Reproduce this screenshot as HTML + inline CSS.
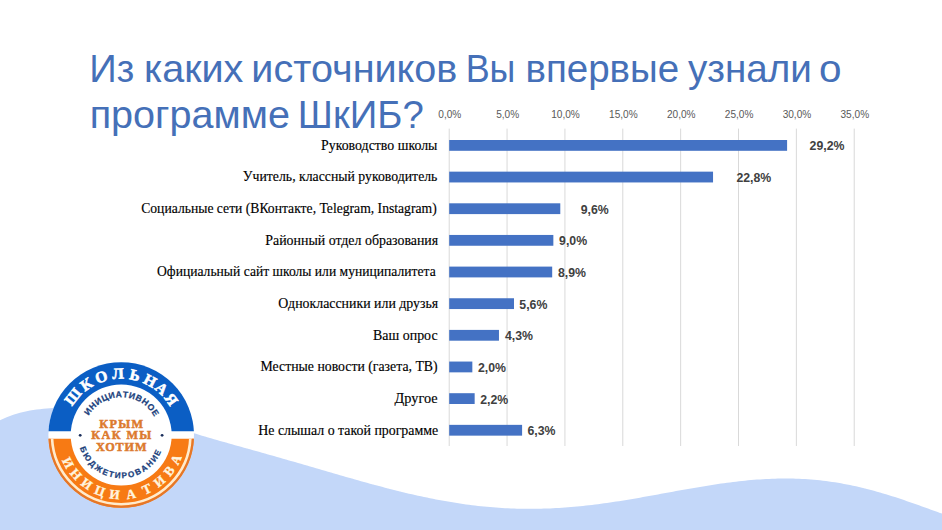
<!DOCTYPE html><html><head><meta charset="utf-8"><style>html,body{margin:0;padding:0;background:#fff;width:942px;height:530px;overflow:hidden}svg{display:block}</style></head><body>
<svg width="942" height="530" viewBox="0 0 942 530">
<path d="M0.0,420.20 L3.3,418.74 L6.7,417.35 L10.0,416.05 L13.3,414.85 L16.7,413.76 L20.0,412.80 L23.3,411.96 L26.7,411.24 L30.0,410.62 L33.3,410.09 L36.7,409.62 L40.0,409.20 L43.3,408.82 L46.7,408.48 L50.0,408.20 L53.3,407.99 L56.7,407.85 L60.0,407.80 L63.0,407.82 L66.0,407.87 L69.1,407.96 L72.1,408.08 L75.1,408.24 L78.1,408.42 L81.2,408.64 L84.2,408.89 L87.2,409.18 L90.2,409.49 L93.2,409.83 L96.3,410.20 L99.3,410.59 L102.3,411.02 L105.3,411.47 L108.4,411.94 L111.4,412.45 L114.4,412.97 L117.4,413.52 L120.4,414.09 L123.5,414.69 L126.5,415.30 L129.5,415.94 L132.5,416.60 L135.6,417.27 L138.6,417.97 L141.6,418.68 L144.6,419.41 L147.6,420.16 L150.7,420.92 L153.7,421.70 L156.7,422.50 L159.7,423.30 L162.8,424.13 L165.8,424.96 L168.8,425.81 L171.8,426.66 L174.8,427.53 L177.9,428.41 L180.9,429.30 L183.9,430.19 L186.9,431.09 L190.0,432.00 L193.0,432.92 L196.0,433.84 L199.0,434.76 L202.0,435.66 L205.0,436.55 L208.0,437.43 L211.0,438.31 L214.0,439.18 L217.0,440.04 L220.0,440.90 L223.0,441.75 L226.0,442.60 L229.0,443.44 L232.0,444.29 L235.0,445.13 L238.0,445.97 L241.0,446.81 L244.0,447.65 L247.0,448.49 L250.0,449.33 L253.0,450.17 L256.0,451.01 L259.0,451.85 L262.0,452.70 L265.0,453.54 L268.0,454.39 L271.0,455.24 L274.0,456.09 L277.0,456.94 L280.0,457.80 L283.0,458.66 L286.0,459.52 L289.0,460.38 L292.0,461.24 L295.0,462.11 L298.0,462.97 L301.0,463.84 L304.0,464.71 L307.0,465.58 L310.0,466.46 L313.0,467.33 L316.0,468.20 L319.0,469.08 L322.0,469.95 L325.0,470.82 L328.0,471.70 L331.0,472.57 L334.0,473.44 L337.0,474.31 L340.0,475.17 L343.0,476.04 L346.0,476.90 L349.0,477.76 L352.0,478.61 L355.0,479.46 L358.0,480.31 L361.0,481.15 L364.0,481.99 L367.0,482.82 L370.0,483.64 L373.0,484.46 L376.0,485.27 L379.0,486.08 L382.0,486.87 L385.0,487.66 L388.0,488.44 L391.0,489.21 L394.0,489.98 L397.0,490.73 L400.0,491.47 L403.0,492.20 L406.0,492.92 L409.0,493.63 L412.0,494.32 L415.0,495.01 L418.0,495.68 L421.0,496.34 L424.0,496.98 L427.0,497.61 L430.0,498.23 L433.0,498.83 L436.0,499.42 L439.0,499.99 L442.0,500.55 L445.0,501.09 L448.0,501.61 L451.0,502.12 L454.0,502.61 L457.0,503.09 L460.0,503.54 L463.0,503.98 L466.0,504.40 L469.0,504.81 L472.0,505.19 L475.0,505.56 L478.0,505.91 L481.0,506.23 L484.0,506.54 L487.0,506.84 L490.0,507.11 L493.0,507.36 L496.0,507.59 L499.0,507.80 L502.0,508.00 L505.0,508.17 L508.0,508.32 L511.0,508.46 L514.0,508.57 L517.0,508.66 L520.0,508.74 L523.0,508.79 L526.0,508.83 L529.0,508.84 L532.0,508.84 L535.0,508.81 L538.0,508.77 L541.0,508.71 L544.0,508.62 L547.0,508.52 L550.0,508.40 L553.0,508.26 L556.0,508.11 L559.0,507.93 L562.0,507.74 L565.0,507.53 L568.0,507.30 L571.0,507.06 L574.0,506.80 L577.0,506.52 L580.0,506.23 L583.0,505.92 L586.0,505.59 L589.0,505.25 L592.0,504.90 L595.0,504.53 L598.0,504.15 L601.0,503.75 L604.0,503.34 L607.0,502.92 L610.0,502.49 L613.0,502.05 L616.0,501.59 L619.0,501.13 L622.0,500.65 L625.0,500.17 L628.0,499.68 L631.0,499.18 L634.0,498.67 L637.0,498.15 L640.0,497.63 L643.0,497.10 L646.0,496.57 L649.0,496.04 L652.0,495.50 L655.0,494.95 L658.0,494.41 L661.0,493.86 L664.0,493.31 L667.0,492.76 L670.0,492.21 L673.0,491.66 L676.0,491.12 L679.0,490.57 L682.0,490.03 L685.0,489.50 L688.0,488.96 L691.0,488.44 L694.0,487.92 L697.0,487.40 L700.0,486.89 L703.0,486.39 L706.0,485.90 L709.0,485.42 L712.0,484.95 L715.0,484.49 L718.0,484.05 L721.0,483.61 L724.0,483.19 L727.0,482.78 L730.0,482.39 L733.0,482.01 L736.0,481.65 L739.0,481.30 L742.0,480.97 L745.0,480.66 L748.0,480.37 L751.0,480.10 L754.0,479.84 L757.0,479.61 L760.0,479.40 L763.0,479.21 L766.0,479.04 L769.0,478.90 L772.0,478.78 L775.0,478.68 L778.0,478.60 L781.0,478.56 L784.0,478.53 L787.0,478.54 L790.0,478.56 L793.0,478.62 L796.0,478.70 L799.0,478.81 L802.0,478.95 L805.0,479.11 L808.0,479.31 L811.0,479.53 L814.0,479.78 L817.0,480.06 L820.0,480.37 L823.0,480.70 L826.0,481.07 L829.0,481.47 L832.0,481.89 L835.0,482.34 L838.0,482.83 L841.0,483.34 L844.0,483.88 L847.0,484.45 L850.0,485.05 L853.0,485.67 L856.0,486.33 L859.0,487.01 L862.0,487.72 L865.0,488.45 L868.0,489.21 L871.0,490.00 L874.0,490.81 L877.0,491.64 L880.0,492.50 L883.0,493.38 L886.0,494.28 L889.0,495.21 L892.0,496.15 L895.0,497.11 L898.0,498.09 L901.0,499.09 L904.0,500.10 L907.0,501.13 L910.0,502.17 L913.0,503.22 L916.0,504.28 L919.0,505.34 L922.0,506.42 L925.0,507.50 L928.0,508.58 L931.0,509.66 L934.0,510.74 L937.0,511.82 L940.0,512.90 L942.0,513.61 L942,530 L0,530 Z" fill="#C3D7F9"/>
<g font-family="Liberation Sans" font-size="38.8" fill="#4570B8">
<text x="89.37" y="81.8" textLength="44.97" lengthAdjust="spacingAndGlyphs">Из</text>
<text x="144.01" y="81.8" textLength="99.32" lengthAdjust="spacingAndGlyphs">каких</text>
<text x="251.37" y="81.8" textLength="206.04" lengthAdjust="spacingAndGlyphs">источников</text>
<text x="465.66" y="81.8" textLength="49.73" lengthAdjust="spacingAndGlyphs">Вы</text>
<text x="525.43" y="81.8" textLength="153.78" lengthAdjust="spacingAndGlyphs">впервые</text>
<text x="688.01" y="81.8" textLength="123.87" lengthAdjust="spacingAndGlyphs">узнали</text>
<text x="819.10" y="81.8" textLength="22.50" lengthAdjust="spacingAndGlyphs">о</text>
<text x="89.66" y="127.7" textLength="200.30" lengthAdjust="spacingAndGlyphs">программе</text>
<text x="297.86" y="127.7" textLength="125.86" lengthAdjust="spacingAndGlyphs">ШкИБ?</text>
</g>
<rect x="448.70" y="128.6" width="1" height="317.4" fill="#D9D9D9"/>
<rect x="506.56" y="128.6" width="1" height="317.4" fill="#D9D9D9"/>
<rect x="564.42" y="128.6" width="1" height="317.4" fill="#D9D9D9"/>
<rect x="622.28" y="128.6" width="1" height="317.4" fill="#D9D9D9"/>
<rect x="680.14" y="128.6" width="1" height="317.4" fill="#D9D9D9"/>
<rect x="738.00" y="128.6" width="1" height="317.4" fill="#D9D9D9"/>
<rect x="795.86" y="128.6" width="1" height="317.4" fill="#D9D9D9"/>
<rect x="853.72" y="128.6" width="1" height="317.4" fill="#D9D9D9"/>
<g font-family="Liberation Sans" font-size="10.1" fill="#595959" text-anchor="middle">
<text x="449.80" y="118">0,0%</text>
<text x="507.66" y="118">5,0%</text>
<text x="565.52" y="118">10,0%</text>
<text x="623.38" y="118">15,0%</text>
<text x="681.24" y="118">20,0%</text>
<text x="739.10" y="118">25,0%</text>
<text x="796.96" y="118">30,0%</text>
<text x="854.82" y="118">35,0%</text>
</g>
<g font-family="Liberation Serif" font-size="14.3" fill="#000" stroke="#000" stroke-width="0.15">
<text x="321.0" y="149.7" textLength="116.4" lengthAdjust="spacingAndGlyphs">Руководство школы</text>
<text x="242.8" y="181.3" textLength="194.6" lengthAdjust="spacingAndGlyphs">Учитель, классный руководитель</text>
<text x="141.2" y="213.0" textLength="295.5" lengthAdjust="spacingAndGlyphs">Социальные сети (ВКонтакте, Telegram, Instagram)</text>
<text x="265.3" y="244.6" textLength="172.9" lengthAdjust="spacingAndGlyphs">Районный отдел образования</text>
<text x="157.0" y="276.3" textLength="278.7" lengthAdjust="spacingAndGlyphs">Официальный сайт школы или муниципалитета</text>
<text x="278.3" y="307.9" textLength="159.9" lengthAdjust="spacingAndGlyphs">Одноклассники или друзья</text>
<text x="373.0" y="339.6" textLength="64.6" lengthAdjust="spacingAndGlyphs">Ваш опрос</text>
<text x="260.5" y="371.2" textLength="177.1" lengthAdjust="spacingAndGlyphs">Местные новости (газета, ТВ)</text>
<text x="394.6" y="402.9" textLength="43.0" lengthAdjust="spacingAndGlyphs">Другое</text>
<text x="258.3" y="434.5" textLength="179.9" lengthAdjust="spacingAndGlyphs">Не слышал о такой программе</text>
</g>
<rect x="449.20" y="140.00" width="337.90" height="10.8" fill="#4472C4"/>
<rect x="449.20" y="171.65" width="263.84" height="10.8" fill="#4472C4"/>
<rect x="449.20" y="203.30" width="111.09" height="10.8" fill="#4472C4"/>
<rect x="449.20" y="234.95" width="104.15" height="10.8" fill="#4472C4"/>
<rect x="449.20" y="266.60" width="102.99" height="10.8" fill="#4472C4"/>
<rect x="449.20" y="298.25" width="64.80" height="10.8" fill="#4472C4"/>
<rect x="449.20" y="329.90" width="49.76" height="10.8" fill="#4472C4"/>
<rect x="449.20" y="361.55" width="23.14" height="10.8" fill="#4472C4"/>
<rect x="449.20" y="393.20" width="25.46" height="10.8" fill="#4472C4"/>
<rect x="449.20" y="424.85" width="72.90" height="10.8" fill="#4472C4"/>
<g font-family="Liberation Sans" font-weight="bold" font-size="12.3" fill="#404040">
<text x="809.6" y="150.4">29,2%</text>
<text x="736.4" y="182.1">22,8%</text>
<text x="580.7" y="213.7">9,6%</text>
<text x="559.1" y="245.3">9,0%</text>
<text x="557.9" y="277.0">8,9%</text>
<text x="519.3" y="308.6">5,6%</text>
<text x="504.9" y="340.3">4,3%</text>
<text x="478.0" y="371.9">2,0%</text>
<text x="480.2" y="403.6">2,2%</text>
<text x="527.5" y="435.2">6,3%</text>
</g>
<defs><clipPath id="ct"><rect x="0" y="0" width="942" height="431.2"/></clipPath><clipPath id="cb"><rect x="0" y="438.8" width="942" height="200"/></clipPath></defs>
<circle cx="121.2" cy="435.0" r="72.8" fill="#fff"/>
<circle cx="121.2" cy="435.0" r="72.8" fill="#0B5EC4" clip-path="url(#ct)"/>
<circle cx="121.2" cy="435.0" r="72.8" fill="#F77A14" clip-path="url(#cb)"/>
<circle cx="121.2" cy="435.0" r="71.8" fill="none" stroke="#E4772A" stroke-width="2" clip-path="url(#cb)"/>
<circle cx="121.2" cy="435.0" r="69.2" fill="none" stroke="#FFEBCD" stroke-width="2.6" clip-path="url(#cb)"/>
<circle cx="121.2" cy="435.0" r="50.5" fill="#fff"/>
<text transform="translate(121.2,435.0) rotate(-51.50) translate(0,-56.3)" text-anchor="middle" font-family="Liberation Serif" font-weight="bold" font-size="15.5" fill="#fff" stroke="#fff" stroke-width="0.6">Ш</text>
<text transform="translate(121.2,435.0) rotate(-34.50) translate(0,-56.3)" text-anchor="middle" font-family="Liberation Serif" font-weight="bold" font-size="15.5" fill="#fff" stroke="#fff" stroke-width="0.6">К</text>
<text transform="translate(121.2,435.0) rotate(-19.00) translate(0,-56.3)" text-anchor="middle" font-family="Liberation Serif" font-weight="bold" font-size="15.5" fill="#fff" stroke="#fff" stroke-width="0.6">О</text>
<text transform="translate(121.2,435.0) rotate(-3.00) translate(0,-56.3)" text-anchor="middle" font-family="Liberation Serif" font-weight="bold" font-size="15.5" fill="#fff" stroke="#fff" stroke-width="0.6">Л</text>
<text transform="translate(121.2,435.0) rotate(13.00) translate(0,-56.3)" text-anchor="middle" font-family="Liberation Serif" font-weight="bold" font-size="15.5" fill="#fff" stroke="#fff" stroke-width="0.6">Ь</text>
<text transform="translate(121.2,435.0) rotate(28.00) translate(0,-56.3)" text-anchor="middle" font-family="Liberation Serif" font-weight="bold" font-size="15.5" fill="#fff" stroke="#fff" stroke-width="0.6">Н</text>
<text transform="translate(121.2,435.0) rotate(41.00) translate(0,-56.3)" text-anchor="middle" font-family="Liberation Serif" font-weight="bold" font-size="15.5" fill="#fff" stroke="#fff" stroke-width="0.6">А</text>
<text transform="translate(121.2,435.0) rotate(54.50) translate(0,-56.3)" text-anchor="middle" font-family="Liberation Serif" font-weight="bold" font-size="15.5" fill="#fff" stroke="#fff" stroke-width="0.6">Я</text>
<text transform="translate(121.2,435.0) rotate(62.40) translate(0,64.3)" text-anchor="middle" font-family="Liberation Serif" font-weight="bold" font-size="13.2" fill="#FFF4DE" stroke="#FFF4DE" stroke-width="0.35">И</text>
<text transform="translate(121.2,435.0) rotate(49.00) translate(0,64.3)" text-anchor="middle" font-family="Liberation Serif" font-weight="bold" font-size="13.2" fill="#FFF4DE" stroke="#FFF4DE" stroke-width="0.35">Н</text>
<text transform="translate(121.2,435.0) rotate(35.20) translate(0,64.3)" text-anchor="middle" font-family="Liberation Serif" font-weight="bold" font-size="13.2" fill="#FFF4DE" stroke="#FFF4DE" stroke-width="0.35">И</text>
<text transform="translate(121.2,435.0) rotate(20.80) translate(0,64.3)" text-anchor="middle" font-family="Liberation Serif" font-weight="bold" font-size="13.2" fill="#FFF4DE" stroke="#FFF4DE" stroke-width="0.35">Ц</text>
<text transform="translate(121.2,435.0) rotate(6.40) translate(0,64.3)" text-anchor="middle" font-family="Liberation Serif" font-weight="bold" font-size="13.2" fill="#FFF4DE" stroke="#FFF4DE" stroke-width="0.35">И</text>
<text transform="translate(121.2,435.0) rotate(-9.40) translate(0,64.3)" text-anchor="middle" font-family="Liberation Serif" font-weight="bold" font-size="13.2" fill="#FFF4DE" stroke="#FFF4DE" stroke-width="0.35">А</text>
<text transform="translate(121.2,435.0) rotate(-25.40) translate(0,64.3)" text-anchor="middle" font-family="Liberation Serif" font-weight="bold" font-size="13.2" fill="#FFF4DE" stroke="#FFF4DE" stroke-width="0.35">Т</text>
<text transform="translate(121.2,435.0) rotate(-39.50) translate(0,64.3)" text-anchor="middle" font-family="Liberation Serif" font-weight="bold" font-size="13.2" fill="#FFF4DE" stroke="#FFF4DE" stroke-width="0.35">И</text>
<text transform="translate(121.2,435.0) rotate(-53.00) translate(0,64.3)" text-anchor="middle" font-family="Liberation Serif" font-weight="bold" font-size="13.2" fill="#FFF4DE" stroke="#FFF4DE" stroke-width="0.35">В</text>
<text transform="translate(121.2,435.0) rotate(-65.80) translate(0,64.3)" text-anchor="middle" font-family="Liberation Serif" font-weight="bold" font-size="13.2" fill="#FFF4DE" stroke="#FFF4DE" stroke-width="0.35">А</text>
<text transform="translate(121.2,435.0) rotate(-55.00) translate(0,-37.8)" text-anchor="middle" font-family="Liberation Sans" font-weight="bold" font-size="8.6" fill="#1B3F7C" stroke="#1B3F7C" stroke-width="0.25">И</text>
<text transform="translate(121.2,435.0) rotate(-44.73) translate(0,-37.8)" text-anchor="middle" font-family="Liberation Sans" font-weight="bold" font-size="8.6" fill="#1B3F7C" stroke="#1B3F7C" stroke-width="0.25">Н</text>
<text transform="translate(121.2,435.0) rotate(-34.46) translate(0,-37.8)" text-anchor="middle" font-family="Liberation Sans" font-weight="bold" font-size="8.6" fill="#1B3F7C" stroke="#1B3F7C" stroke-width="0.25">И</text>
<text transform="translate(121.2,435.0) rotate(-24.13) translate(0,-37.8)" text-anchor="middle" font-family="Liberation Sans" font-weight="bold" font-size="8.6" fill="#1B3F7C" stroke="#1B3F7C" stroke-width="0.25">Ц</text>
<text transform="translate(121.2,435.0) rotate(-13.80) translate(0,-37.8)" text-anchor="middle" font-family="Liberation Sans" font-weight="bold" font-size="8.6" fill="#1B3F7C" stroke="#1B3F7C" stroke-width="0.25">И</text>
<text transform="translate(121.2,435.0) rotate(-3.53) translate(0,-37.8)" text-anchor="middle" font-family="Liberation Sans" font-weight="bold" font-size="8.6" fill="#1B3F7C" stroke="#1B3F7C" stroke-width="0.25">А</text>
<text transform="translate(121.2,435.0) rotate(5.97) translate(0,-37.8)" text-anchor="middle" font-family="Liberation Sans" font-weight="bold" font-size="8.6" fill="#1B3F7C" stroke="#1B3F7C" stroke-width="0.25">Т</text>
<text transform="translate(121.2,435.0) rotate(15.45) translate(0,-37.8)" text-anchor="middle" font-family="Liberation Sans" font-weight="bold" font-size="8.6" fill="#1B3F7C" stroke="#1B3F7C" stroke-width="0.25">И</text>
<text transform="translate(121.2,435.0) rotate(25.72) translate(0,-37.8)" text-anchor="middle" font-family="Liberation Sans" font-weight="bold" font-size="8.6" fill="#1B3F7C" stroke="#1B3F7C" stroke-width="0.25">В</text>
<text transform="translate(121.2,435.0) rotate(36.01) translate(0,-37.8)" text-anchor="middle" font-family="Liberation Sans" font-weight="bold" font-size="8.6" fill="#1B3F7C" stroke="#1B3F7C" stroke-width="0.25">Н</text>
<text transform="translate(121.2,435.0) rotate(46.70) translate(0,-37.8)" text-anchor="middle" font-family="Liberation Sans" font-weight="bold" font-size="8.6" fill="#1B3F7C" stroke="#1B3F7C" stroke-width="0.25">О</text>
<text transform="translate(121.2,435.0) rotate(57.00) translate(0,-37.8)" text-anchor="middle" font-family="Liberation Sans" font-weight="bold" font-size="8.6" fill="#1B3F7C" stroke="#1B3F7C" stroke-width="0.25">Е</text>
<text transform="translate(121.2,435.0) rotate(69.00) translate(0,43.2)" text-anchor="middle" font-family="Liberation Sans" font-weight="bold" font-size="8.2" fill="#1B3F7C" stroke="#1B3F7C" stroke-width="0.25">Б</text>
<text transform="translate(121.2,435.0) rotate(56.96) translate(0,43.2)" text-anchor="middle" font-family="Liberation Sans" font-weight="bold" font-size="8.2" fill="#1B3F7C" stroke="#1B3F7C" stroke-width="0.25">Ю</text>
<text transform="translate(121.2,435.0) rotate(44.97) translate(0,43.2)" text-anchor="middle" font-family="Liberation Sans" font-weight="bold" font-size="8.2" fill="#1B3F7C" stroke="#1B3F7C" stroke-width="0.25">Д</text>
<text transform="translate(121.2,435.0) rotate(33.85) translate(0,43.2)" text-anchor="middle" font-family="Liberation Sans" font-weight="bold" font-size="8.2" fill="#1B3F7C" stroke="#1B3F7C" stroke-width="0.25">Ж</text>
<text transform="translate(121.2,435.0) rotate(23.04) translate(0,43.2)" text-anchor="middle" font-family="Liberation Sans" font-weight="bold" font-size="8.2" fill="#1B3F7C" stroke="#1B3F7C" stroke-width="0.25">Е</text>
<text transform="translate(121.2,435.0) rotate(14.25) translate(0,43.2)" text-anchor="middle" font-family="Liberation Sans" font-weight="bold" font-size="8.2" fill="#1B3F7C" stroke="#1B3F7C" stroke-width="0.25">Т</text>
<text transform="translate(121.2,435.0) rotate(5.11) translate(0,43.2)" text-anchor="middle" font-family="Liberation Sans" font-weight="bold" font-size="8.2" fill="#1B3F7C" stroke="#1B3F7C" stroke-width="0.25">И</text>
<text transform="translate(121.2,435.0) rotate(-4.43) translate(0,43.2)" text-anchor="middle" font-family="Liberation Sans" font-weight="bold" font-size="8.2" fill="#1B3F7C" stroke="#1B3F7C" stroke-width="0.25">Р</text>
<text transform="translate(121.2,435.0) rotate(-14.37) translate(0,43.2)" text-anchor="middle" font-family="Liberation Sans" font-weight="bold" font-size="8.2" fill="#1B3F7C" stroke="#1B3F7C" stroke-width="0.25">О</text>
<text transform="translate(121.2,435.0) rotate(-24.68) translate(0,43.2)" text-anchor="middle" font-family="Liberation Sans" font-weight="bold" font-size="8.2" fill="#1B3F7C" stroke="#1B3F7C" stroke-width="0.25">В</text>
<text transform="translate(121.2,435.0) rotate(-34.62) translate(0,43.2)" text-anchor="middle" font-family="Liberation Sans" font-weight="bold" font-size="8.2" fill="#1B3F7C" stroke="#1B3F7C" stroke-width="0.25">А</text>
<text transform="translate(121.2,435.0) rotate(-44.56) translate(0,43.2)" text-anchor="middle" font-family="Liberation Sans" font-weight="bold" font-size="8.2" fill="#1B3F7C" stroke="#1B3F7C" stroke-width="0.25">Н</text>
<text transform="translate(121.2,435.0) rotate(-54.47) translate(0,43.2)" text-anchor="middle" font-family="Liberation Sans" font-weight="bold" font-size="8.2" fill="#1B3F7C" stroke="#1B3F7C" stroke-width="0.25">И</text>
<text transform="translate(121.2,435.0) rotate(-64.00) translate(0,43.2)" text-anchor="middle" font-family="Liberation Sans" font-weight="bold" font-size="8.2" fill="#1B3F7C" stroke="#1B3F7C" stroke-width="0.25">Е</text>
<circle cx="80.2" cy="435.3" r="1.4" fill="#1B2F5C"/><circle cx="162.1" cy="435.3" r="1.4" fill="#1B2F5C"/>
<g font-family="Liberation Serif" font-weight="bold" font-size="12.2" fill="#DC7A2E" stroke="#DC7A2E" stroke-width="0.5">
<text x="99.37" y="427.5" textLength="43.72" lengthAdjust="spacing">КРЫМ</text>
<text x="91.36" y="439.2" textLength="59.87" lengthAdjust="spacing">КАК МЫ</text>
<text x="96.06" y="451" textLength="50.41" lengthAdjust="spacing">ХОТИМ</text>
</g>
</svg></body></html>
